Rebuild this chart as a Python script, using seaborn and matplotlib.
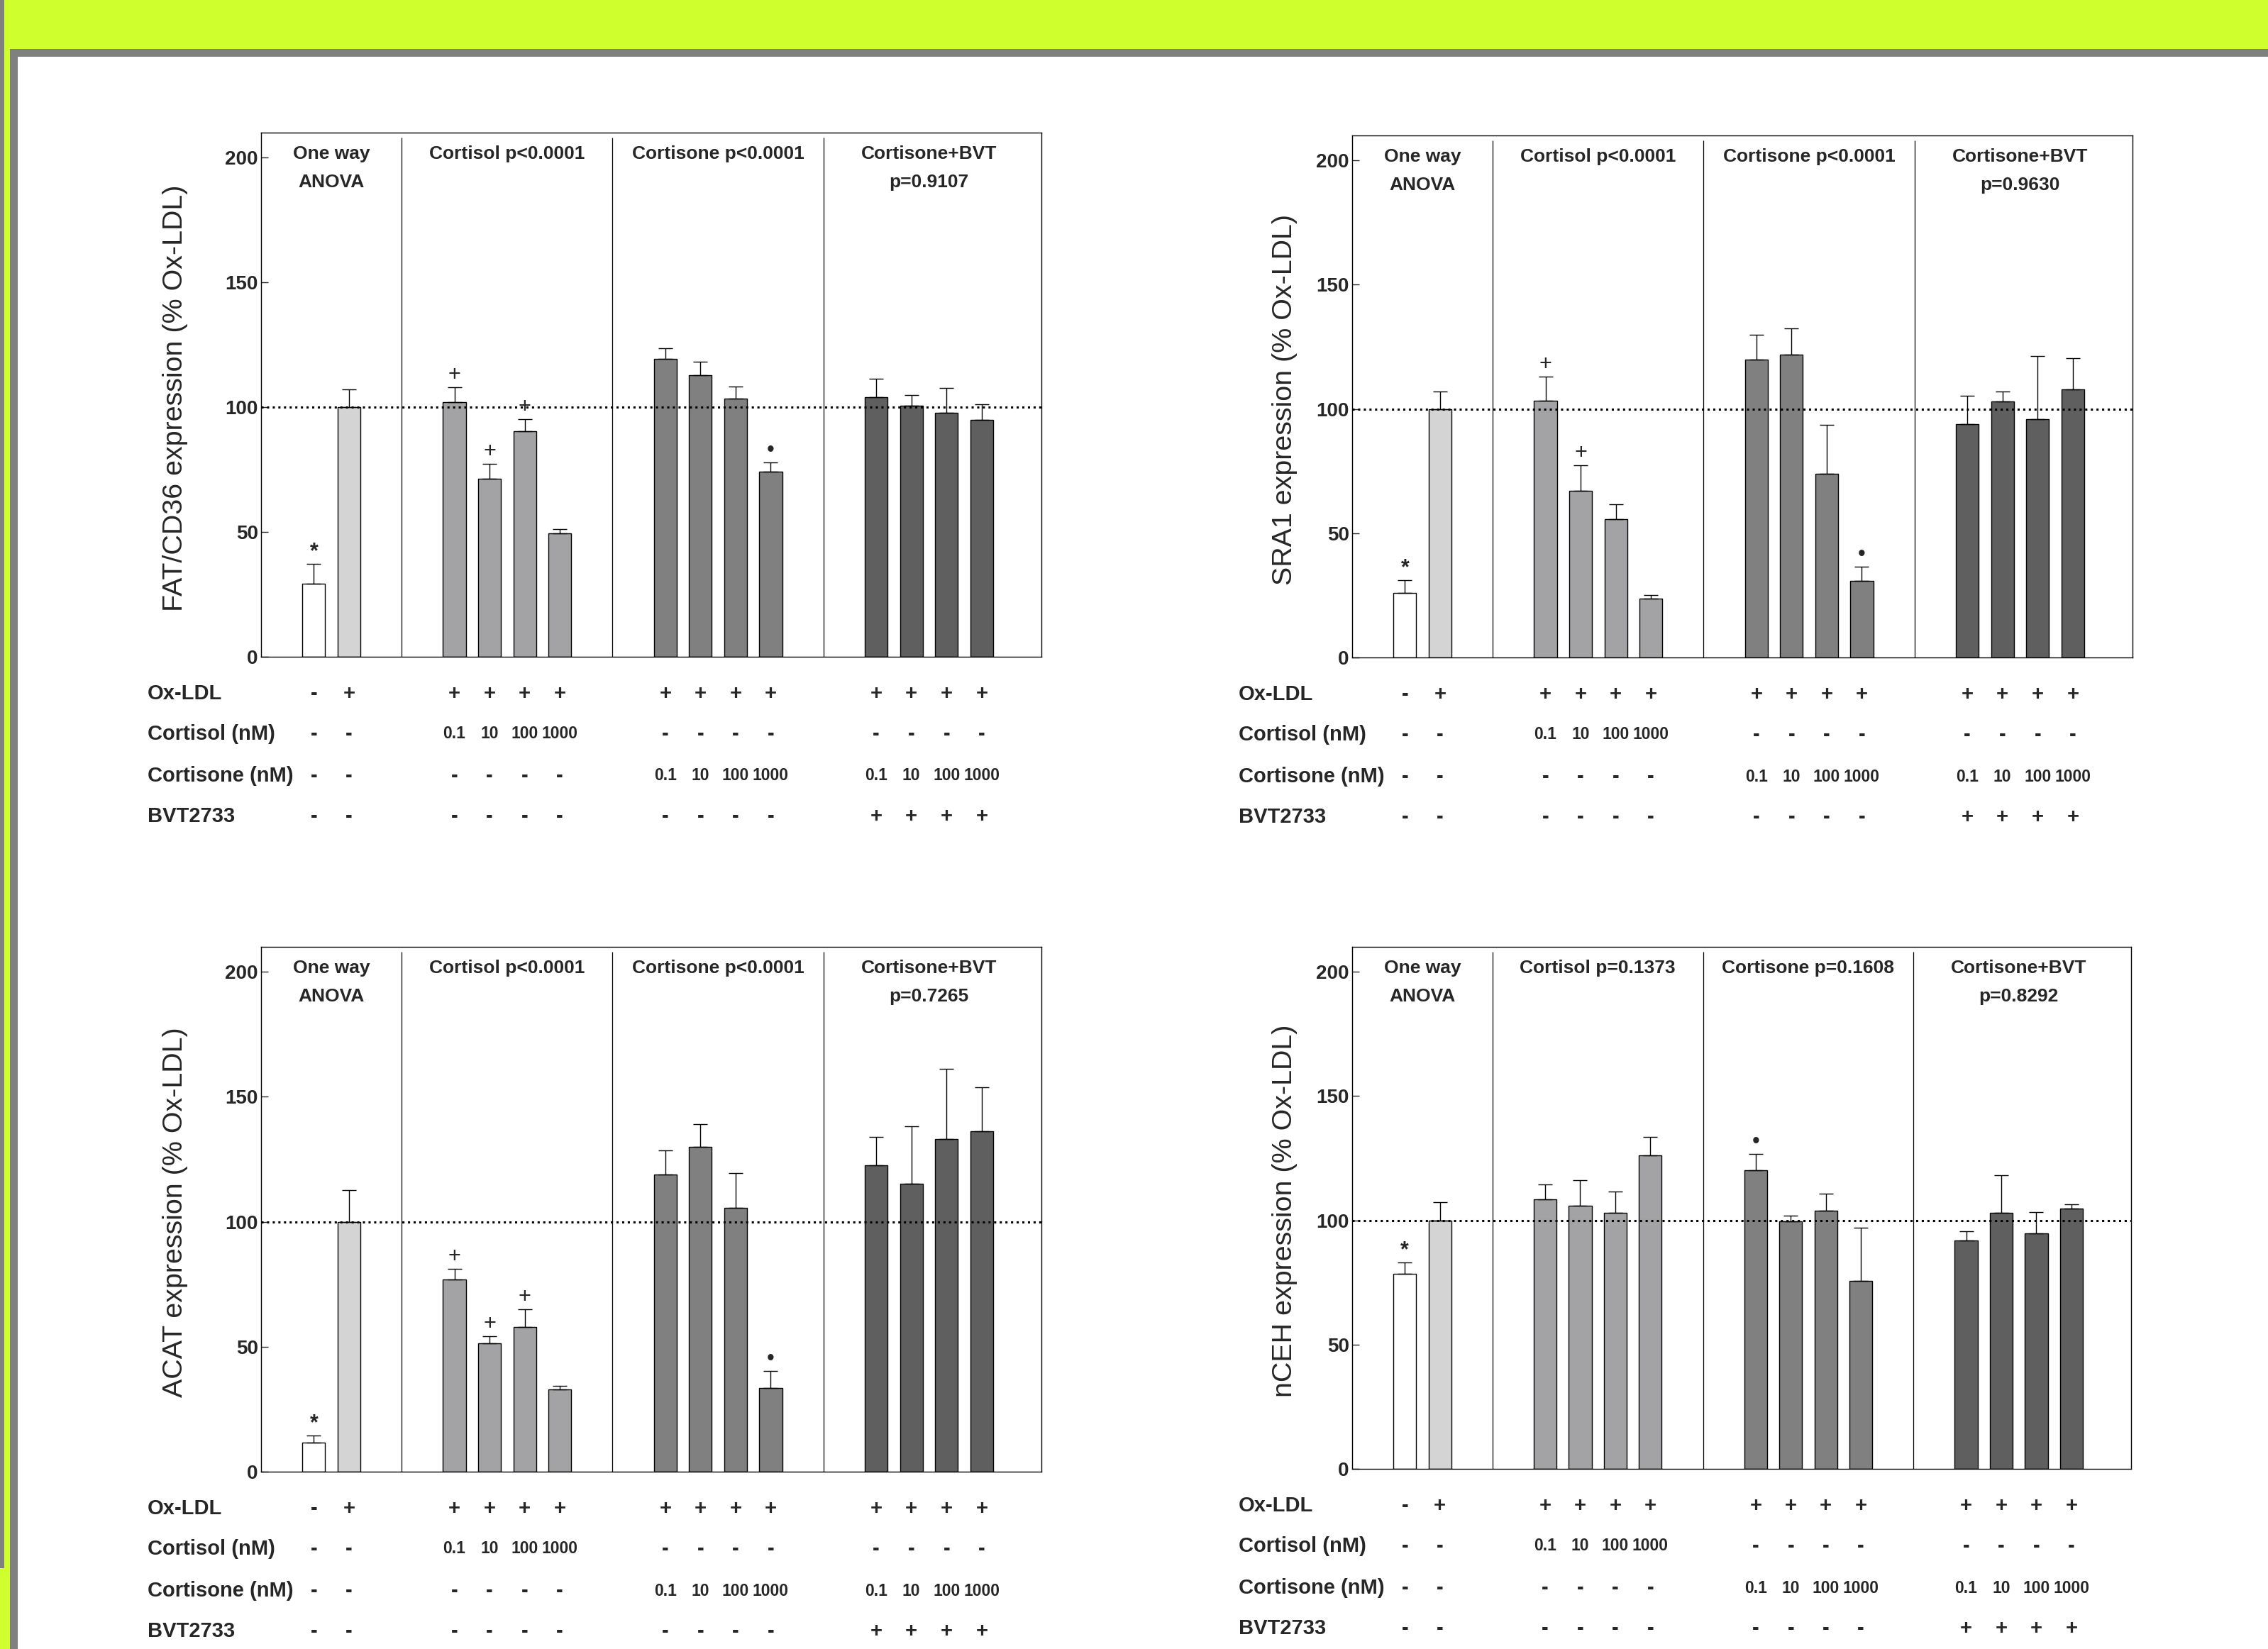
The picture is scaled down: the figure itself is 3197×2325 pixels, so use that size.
import numpy as np
import pandas as pd
import matplotlib
matplotlib.use("Agg")
import matplotlib.pyplot as plt
from matplotlib.patches import Rectangle
from matplotlib import font_manager
import seaborn as sns

# ---------------- data ----------------
group_names = ["One way\nANOVA", "Cortisol", "Cortisone", "Cortisone+BVT"]
group_sizes = [2, 4, 4, 4]
bar_groups = ["ctrl", "oxldl"] + ["cortisol"] * 4 + ["cortisone"] * 4 + ["bvt"] * 4

fat_mean = [29.4, 100.0, 102.1, 71.3, 90.3, 49.5, 119.3, 112.9, 103.3, 74.1, 104.1, 100.6, 97.7, 94.9]
fat_sem = [7.7, 7.0, 6.0, 6.1, 4.9, 1.7, 4.2, 5.2, 5.0, 3.9, 7.4, 4.2, 10.0, 6.2]
fat_marks = ["*", "", "+", "+", "+", "", "", "", "", "•", "", "", "", ""]
fat_titles = ["One way\nANOVA", "Cortisol p<0.0001", "Cortisone p<0.0001", "Cortisone+BVT\np=0.9107"]

sra_mean = [26.1, 100.0, 103.2, 67.0, 55.7, 23.8, 119.9, 121.7, 74.0, 30.8, 93.8, 103.1, 95.9, 107.8]
sra_sem = [5.0, 7.1, 9.8, 10.3, 6.0, 1.4, 9.8, 10.6, 19.5, 5.8, 11.4, 4.0, 25.4, 12.5]
sra_marks = ["*", "", "+", "+", "", "", "", "", "", "•", "", "", "", ""]
sra_titles = ["One way\nANOVA", "Cortisol p<0.0001", "Cortisone p<0.0001", "Cortisone+BVT\np=0.9630"]

acat_mean = [11.6, 100.0, 76.8, 51.5, 57.8, 32.9, 118.9, 129.9, 105.5, 33.4, 122.5, 115.3, 133.1, 136.1]
acat_sem = [2.9, 12.8, 4.4, 2.7, 7.2, 1.5, 9.6, 9.2, 14.0, 6.9, 11.5, 22.8, 28.2, 17.6]
acat_marks = ["*", "", "+", "+", "+", "", "", "", "", "•", "", "", "", ""]
acat_titles = ["One way\nANOVA", "Cortisol p<0.0001", "Cortisone p<0.0001", "Cortisone+BVT\np=0.7265"]

nceh_mean = [78.6, 100.0, 108.5, 105.8, 103.1, 126.2, 120.1, 99.6, 103.8, 75.5, 92.0, 103.1, 94.7, 104.7]
nceh_sem = [4.3, 7.3, 5.9, 10.3, 8.4, 7.3, 6.7, 2.3, 6.9, 21.4, 3.6, 15.0, 8.6, 1.7]
nceh_marks = ["*", "", "", "", "", "", "•", "", "", "", "", "", "", ""]
nceh_titles = ["One way\nANOVA", "Cortisol p=0.1373", "Cortisone p=0.1608", "Cortisone+BVT\np=0.8292"]

row_labels = ["Ox-LDL", "Cortisol (nM)", "Cortisone (nM)", "BVT2733"]
row_oxldl = ["-", "+", "+", "+", "+", "+", "+", "+", "+", "+", "+", "+", "+", "+"]
row_cortisol = ["-", "-", "0.1", "10", "100", "1000", "-", "-", "-", "-", "-", "-", "-", "-"]
row_cortisone = ["-", "-", "-", "-", "-", "-", "0.1", "10", "100", "1000", "0.1", "10", "100", "1000"]
row_bvt = ["-", "-", "-", "-", "-", "-", "-", "-", "-", "-", "+", "+", "+", "+"]

y_labels = ["FAT/CD36 expression (% Ox-LDL)", "SRA1 expression (% Ox-LDL)",
            "ACAT expression (% Ox-LDL)", "nCEH expression (% Ox-LDL)"]
y_ticks = [0, 50, 100, 150, 200]

palette = {"ctrl": "#ffffff", "oxldl": "#d4d4d4", "cortisol": "#a2a2a6",
           "cortisone": "#808080", "bvt": "#5f5f5f"}

# ---------------- style ----------------
sns.set_style("white")
plt.rcParams["font.family"] = ["Liberation Sans", "DejaVu Sans"]

# condensed face for the concentration numbers, if available
installed = {f.name for f in font_manager.fontManager.ttflist}
if "Liberation Sans Narrow" in installed:
    num_family, num_size = ["Liberation Sans Narrow", "Liberation Sans"], 19.5
else:
    num_family, num_size = ["Liberation Sans", "DejaVu Sans"], 16.5

W, H = 3197, 2325
DPI = 100
fig = plt.figure(figsize=(W / DPI, H / DPI), dpi=DPI)
fig.patch.set_facecolor("white")

GREEN = "#d0ff2e"
GREY = "#808080"


def fig_rect(x0, y0, x1, y1, color):
    fig.add_artist(Rectangle((x0 / W, 1 - y1 / H), (x1 - x0) / W, (y1 - y0) / H,
                             transform=fig.transFigure, facecolor=color,
                             edgecolor="none", zorder=0))


# page frame
fig_rect(0, 0, W, 69, GREEN)
fig_rect(0, 0, 6, 2211, GREY)
fig_rect(6, 69, 14, H, GREEN)
fig_rect(0, 2211, 6, H, GREEN)
fig_rect(14, 69, W, 80, GREY)
fig_rect(14, 69, 25, H, GREY)

# bar positions: groups separated by two empty slots
positions = []
start = 0
for n in group_sizes:
    positions += list(range(start, start + n))
    start += n + 2
positions = np.array(positions, dtype=float)
group_centres = []
i = 0
for n in group_sizes:
    group_centres.append(positions[i:i + n].mean())
    i += n
dividers = [(positions[sum(group_sizes[:k]) - 1] + positions[sum(group_sizes[:k])]) / 2
            for k in range(1, len(group_sizes))]

# axes boxes in pixels: left, top, right, bottom ; y-label offset from spine
boxes = [(368, 187, 1468, 926, 121), (1906, 191, 3006, 927, 95),
         (368, 1335, 1468, 2075, 121), (1906, 1335, 3004, 2071, 95)]
panels = [(fat_mean, fat_sem, fat_marks, fat_titles),
          (sra_mean, sra_sem, sra_marks, sra_titles),
          (acat_mean, acat_sem, acat_marks, acat_titles),
          (nceh_mean, nceh_sem, nceh_marks, nceh_titles)]
table_rows = [row_oxldl, row_cortisol, row_cortisone, row_bvt]
row_offsets_px = [52, 109, 168, 225]

LW = 1.0  # points

for (l, t, r, b, lab_off), (means, sems, marks, titles), ylab in zip(boxes, panels, y_labels):
    ax = fig.add_axes([l / W, 1 - b / H, (r - l) / W, (b - t) / H])
    ax_h_px = b - t
    ax_w_px = r - l

    df = pd.DataFrame({"pos": positions, "value": means, "group": bar_groups})
    sns.barplot(data=df, x="pos", y="value", hue="group", palette=palette,
                native_scale=True, dodge=False, width=0.65, errorbar=None,
                edgecolor="black", linewidth=LW, legend=False, ax=ax, zorder=2)

    ax.errorbar(positions, means, yerr=[np.zeros(len(sems)), sems], fmt="none",
                ecolor="black", elinewidth=LW, capsize=7.5, capthick=LW, zorder=3)

    ax.axhline(100, color="black", linestyle=(0, (1, 1.6)), linewidth=2.2, zorder=5)
    ax.vlines(dividers, 0, 208, color="black", linewidth=0.9, zorder=1)

    ax.set_xlim(-1.5, 20.7)
    ax.set_ylim(0, 210)
    ax.set_yticks(y_ticks)
    ax.set_yticklabels([str(v) for v in y_ticks], fontsize=20, fontweight="bold")
    ax.set_xticks([])
    ax.set_xlabel("")
    ax.set_ylabel("")
    ax.tick_params(axis="y", direction="in", length=7.2, width=LW, pad=3, left=True)
    for s in ax.spines.values():
        s.set_visible(True)
        s.set_color("black")
        s.set_linewidth(LW)

    # significance symbols above the caps
    for x, m, s, mk in zip(positions, means, sems, marks):
        if mk:
            ax.text(x, m + s + 2.5, mk, ha="center", va="baseline", fontsize=22,
                    fontweight="bold" if mk == "*" else "normal", zorder=6)

    # section titles
    for xc, title in zip(group_centres, titles):
        for k, line in enumerate(title.split("\n")):
            ax.text(xc, 201.5 - 11.5 * k, line, ha="center", va="center",
                    fontsize=19, fontweight="bold")

    # y label
    ax.text(-lab_off / ax_w_px, 0.494, ylab, transform=ax.transAxes, rotation=90,
            ha="center", va="center", fontsize=28.4)

    # treatment table under the axes
    trans = matplotlib.transforms.blended_transform_factory(ax.transData, ax.transAxes)
    for label, row, off in zip(row_labels, table_rows, row_offsets_px):
        yf = -off / ax_h_px
        ax.text(-160 / ax_w_px, yf, label, transform=ax.transAxes, ha="left",
                va="center", fontsize=21, fontweight="bold", clip_on=False)
        for x, entry in zip(positions, row):
            if entry in ("+", "-"):
                ax.text(x, yf, entry, transform=trans, ha="center", va="center",
                        fontsize=21, fontweight="bold", clip_on=False)
            else:
                ax.text(x, yf, entry, transform=trans, ha="center", va="center",
                        fontsize=num_size, fontweight="bold", family=num_family,
                        clip_on=False)

fig.savefig("out.png", dpi=DPI, facecolor="white")
